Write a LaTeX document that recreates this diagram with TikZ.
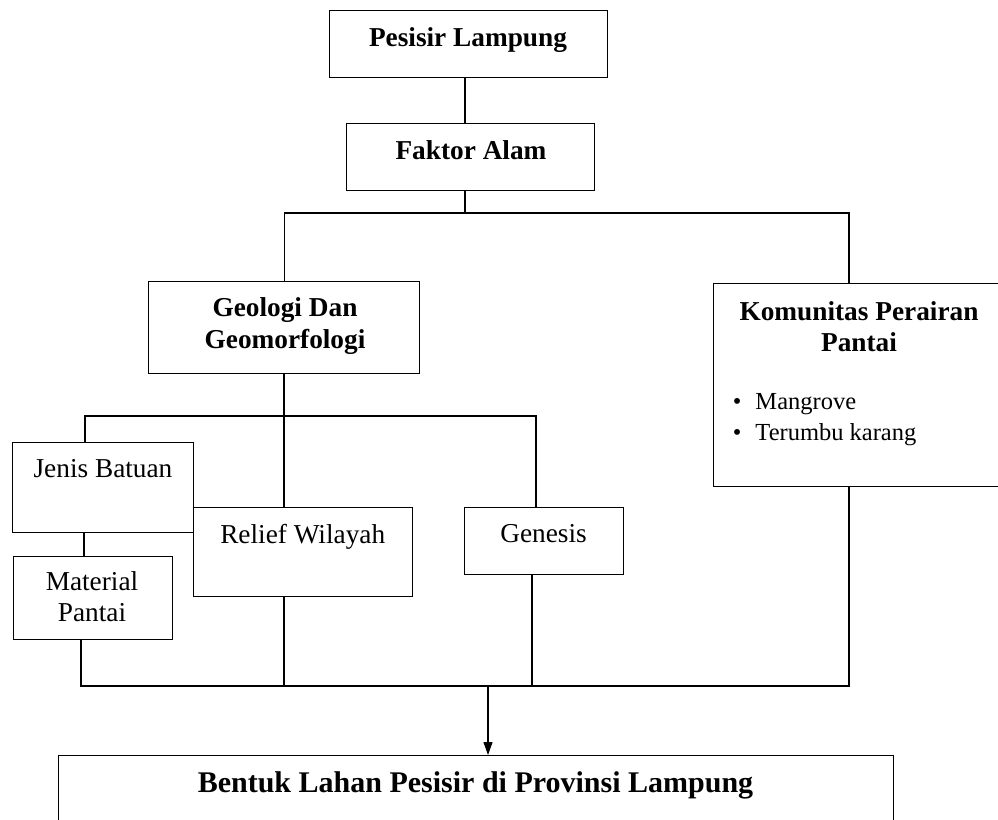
\documentclass[tikz,border=0pt]{standalone}
\usepackage{fontspec}
\setmainfont{Liberation Serif}
\usetikzlibrary{arrows.meta}

\tikzset{
  box/.style={draw, line width=1.2pt, anchor=north west, inner sep=0pt},
  head/.style={anchor=base, inner sep=0pt, font=\bfseries\fontsize{27.3}{32}\selectfont},
  body/.style={anchor=base, inner sep=0pt, font=\fontsize{27.3}{32}\selectfont},
  item/.style={anchor=base west, inner sep=0pt, font=\fontsize{24.5}{32}\selectfont},
  link/.style={line width=1.2pt},
}

\begin{document}
\begin{tikzpicture}[x=1pt, y=-1pt]
    \useasboundingbox (0,0) rectangle (998,819);

    % Boxes
    \node[box, minimum width=278, minimum height=67] (pesisir) at (329,10) {};
    \node[box, minimum width=248, minimum height=67] (faktor) at (346,123) {};
    \node[box, minimum width=271, minimum height=92] (geologi) at (148,281) {};
    \node[box, minimum width=300, minimum height=203] (komunitas) at (713,283) {};
    \node[box, minimum width=181, minimum height=90] (jenis) at (12,442) {};
    \node[box, minimum width=159, minimum height=83] (material) at (13,556) {};
    \node[box, minimum width=219, minimum height=89] (relief) at (193,507) {};
    \node[box, minimum width=159, minimum height=67] (genesis) at (464,507) {};
    \node[box, minimum width=835, minimum height=80] (bentuk) at (58,755) {};

    % Labels
    \node[head] (pesisirT) at (468,46.7) {Pesisir Lampung};
    \node[head] (faktorT) at (471,159.3) {Faktor Alam};
    \node[head] (geologiT1) at (285,316.7) {Geologi Dan};
    \node[head] (geologiT2) at (285,348.3) {Geomorfologi};
    \node[head] (komunitasT1) at (859,320.7) {Komunitas Perairan};
    \node[head] (komunitasT2) at (859,351) {Pantai};
    \node[item] (mangroveT) at (732.7,409.3) {\textbullet\hspace{14pt}Mangrove};
    \node[item] (terumbuT) at (732.7,440) {\textbullet\hspace{14pt}Terumbu karang};
    \node[body] (jenisT) at (103,477.3) {Jenis Batuan};
    \node[body] (materialT1) at (92,590.7) {Material};
    \node[body] (materialT2) at (92,621.7) {Pantai};
    \node[body] (reliefT) at (302.7,543.3) {Relief Wilayah};
    \node[body] (genesisT) at (543.5,542.7) {Genesis};
    \node[head, font=\bfseries\fontsize{30}{36}\selectfont] (bentukT) at (475.5,792) {Bentuk Lahan Pesisir di Provinsi Lampung};

    % Join points
    \coordinate (splitA) at (465,213);
    \coordinate (komIn) at (849,283);
    \coordinate (splitB) at (284,416);
    \coordinate (jenisIn) at (85,442);
    \coordinate (genesisIn) at (536,507);
    \coordinate (jenisOut) at (84,532);
    \coordinate (materialIn) at (84,556);
    \coordinate (materialOut) at (81,639);
    \coordinate (reliefOut) at (284,596);
    \coordinate (genesisOut) at (532,574);
    \coordinate (komOut) at (849,486);
    \coordinate (merge) at (488,686);

    % Connectors
    \draw[link] (splitA |- pesisir.south) -- (splitA |- faktor.north);
    \draw[link] (splitA |- faktor.south) -- (splitA);
    \draw[link] (geologi.north) |- (splitA) -| (komIn);
    \draw[link] (splitB |- geologi.south) -- (splitB |- relief.north);
    \draw[link] (jenisIn) |- (splitB) -| (genesisIn);
    \draw[link] (jenisOut) -- (materialIn);
    \draw[link] (materialOut) |- (komOut |- merge) -- (komOut);
    \draw[link] (reliefOut) -- (reliefOut |- merge);
    \draw[link] (genesisOut) -- (genesisOut |- merge);
    \draw[link, -{Triangle[width=9pt,length=13pt]}] (merge) -- (merge |- bentuk.north);
\end{tikzpicture}
\end{document}
